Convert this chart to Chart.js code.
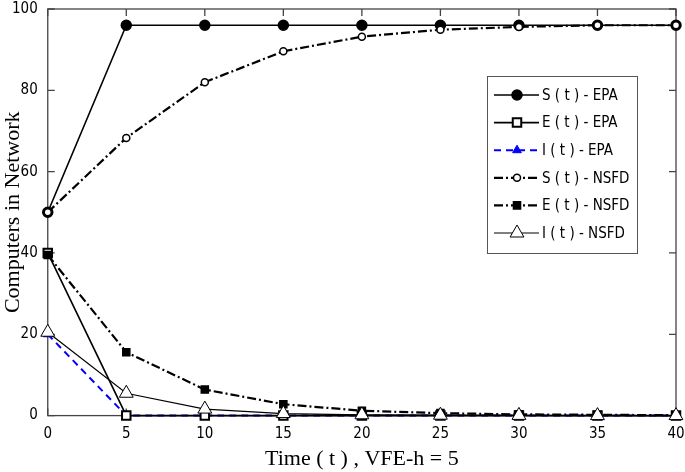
<!DOCTYPE html>
<html><head><meta charset="utf-8">
<script src="https://cdn.jsdelivr.net/npm/chart.js@4/dist/chart.umd.min.js"></script>
<style>html,body{margin:0;padding:0;background:#fff}#w{width:685px;height:472px}</style>
</head><body><div id="w"><canvas id="c"></canvas></div>
<script>
const times = [0, 5, 10, 15, 20, 25, 30, 35, 40];
const sEPA  = [50, 96, 96, 96, 96, 96, 96, 96, 96];
const eEPA  = [40, 0, 0, 0, 0, 0, 0, 0, 0];
const iEPA  = [20, 0, 0, 0, 0, 0, 0, 0, 0];
const sNSFD = [50, 68.3, 82, 89.6, 93.2, 94.9, 95.6, 96, 96];
const eNSFD = [39.5, 15.6, 6.4, 2.8, 1.2, 0.6, 0.3, 0.2, 0.1];
const iNSFD = [20.5, 5.5, 1.6, 0.5, 0.2, 0.1, 0.05, 0, 0];
const seriesLabels = ['S ( t ) - EPA','E ( t ) - EPA','I ( t ) - EPA','S ( t ) - NSFD','E ( t ) - NSFD','I ( t ) - NSFD'];
const xTicks = [0,5,10,15,20,25,30,35,40];
const yTicks = [0,20,40,60,80,100];
const narrow = '"DejaVu Sans Condensed", "Liberation Sans Narrow", sans-serif';

const pts = a => a.map((v,i)=>({x:times[i],y:v}));
const mk = (label,data,o)=>Object.assign({label,data:pts(data),showLine:true,fill:false,tension:0,clip:false,borderColor:'#000',backgroundColor:'#000',borderWidth:1.6,pointBorderWidth:1.5,pointBorderColor:'#000'},o);
const datasets = [
  mk(seriesLabels[5], iNSFD, {borderWidth:1.2, pointStyle:'triangle', pointRadius:8, pointBackgroundColor:'#fff', pointBorderWidth:1}),
  mk(seriesLabels[4], eNSFD, {borderDash:[9,3,2,3], borderWidth:2.2, pointStyle:'rect', pointRadius:5, pointBackgroundColor:'#000'}),
  mk(seriesLabels[3], sNSFD, {borderDash:[9,3,2,3], borderWidth:2.2, pointStyle:'circle', pointRadius:3.5, pointBackgroundColor:'#fff'}),
  mk(seriesLabels[1], eEPA, {borderWidth:1.6, pointStyle:'rect', pointRadius:6, pointBackgroundColor:'#fff', pointBorderWidth:2}),
  mk(seriesLabels[2], iEPA, {borderColor:'#0000ff', backgroundColor:'#0000ff', borderDash:[7,5], borderWidth:2, pointStyle:'triangle', pointRadius:5, pointBackgroundColor:'#0000ff', pointBorderColor:'#0000ff', pointBorderWidth:1}),
  mk(seriesLabels[0], sEPA, {borderWidth:1.6, pointStyle:'circle', pointRadius:5, pointBackgroundColor:'#000'})
];

const frame = {
  id:'frame',
  beforeDatasetsDraw(chart){
    const {ctx, chartArea:a, scales:{x,y}} = chart;
    ctx.save();
    ctx.strokeStyle='#444'; ctx.lineWidth=1.3;
    ctx.strokeRect(a.left,a.top,a.right-a.left,a.bottom-a.top);
    ctx.beginPath();
    xTicks.forEach(t=>{const px=x.getPixelForValue(t); ctx.moveTo(px,a.top); ctx.lineTo(px,a.top+7); ctx.moveTo(px,a.bottom); ctx.lineTo(px,a.bottom-7);});
    yTicks.forEach(t=>{const py=y.getPixelForValue(t); ctx.moveTo(a.left,py); ctx.lineTo(a.left+7,py); ctx.moveTo(a.right,py); ctx.lineTo(a.right-7,py);});
    ctx.stroke();
    ctx.translate(13,(a.top+a.bottom)/2);
    ctx.rotate(-Math.PI/2);
    ctx.fillStyle='#000'; ctx.font='22px "Liberation Serif", serif';
    ctx.textAlign='center'; ctx.textBaseline='middle';
    ctx.fillText('Computers in Network',0,0);
    ctx.restore();
  },
  afterDraw(chart){
    const {ctx} = chart;
    ctx.save();
    const lx=487, ly=76, lw=150, lh=177;
    ctx.fillStyle='#fff'; ctx.fillRect(lx,ly,lw,lh);
    ctx.strokeStyle='#555'; ctx.lineWidth=1; ctx.strokeRect(lx+0.5,ly+0.5,lw,lh);
    const order=[5,3,4,2,1,0];
    order.forEach((di,k)=>{
      const ds=chart.data.datasets[di];
      const cy=ly+19+k*27.6;
      ctx.save();
      ctx.strokeStyle=ds.borderColor; ctx.lineWidth=ds.borderWidth;
      ctx.setLineDash(ds.borderDash||[]);
      ctx.beginPath(); ctx.moveTo(lx+7,cy); ctx.lineTo(lx+52,cy); ctx.stroke();
      ctx.restore();
      ctx.save();
      ctx.fillStyle=ds.pointBackgroundColor; ctx.strokeStyle=ds.pointBorderColor; ctx.lineWidth=ds.pointBorderWidth;
      Chart.helpers.drawPoint(ctx,{pointStyle:ds.pointStyle,radius:ds.pointRadius,borderWidth:ds.pointBorderWidth,rotation:0},lx+30,cy);
      ctx.restore();
      ctx.fillStyle='#000'; ctx.font='15px '+narrow;
      ctx.textBaseline='middle'; ctx.textAlign='left';
      ctx.fillText(ds.label, lx+55, cy+1);
    });
    ctx.restore();
  }
};

new Chart(document.getElementById('c'),{
  type:'scatter',
  data:{datasets},
  options:{
    responsive:true, maintainAspectRatio:false, animation:false,
    layout:{padding:{top:5,right:1,left:10,bottom:0}},
    plugins:{legend:{display:false},tooltip:{enabled:false}},
    scales:{
      x:{type:'linear',min:0,max:40,
        afterBuildTicks:s=>{s.ticks=xTicks.map(v=>({value:v}));},
        afterFit:s=>{s.paddingLeft=0; s.paddingRight=0;},
        grid:{display:false},border:{display:false},
        ticks:{color:'#000',font:{size:15,family:narrow},padding:2},
        title:{display:true,text:'Time ( t ) , VFE-h = 5',color:'#000',font:{size:22,family:'"Liberation Serif", serif'},padding:{top:0,bottom:0}}},
      y:{type:'linear',min:0,max:100,
        afterBuildTicks:s=>{s.ticks=yTicks.map(v=>({value:v}));},
        afterFit:s=>{s.paddingTop=0; s.paddingBottom=0;},
        grid:{display:false},border:{display:false},
        ticks:{color:'#000',font:{size:15,family:narrow},padding:2}}
    }
  },
  plugins:[frame]
});
</script></body></html>
